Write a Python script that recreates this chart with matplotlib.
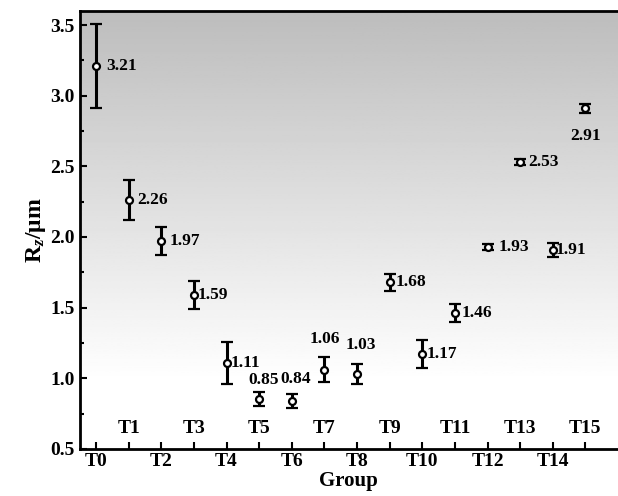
import numpy as np
import matplotlib.pyplot as plt

plt.rcParams['font.family'] = ['Liberation Serif', 'DejaVu Serif']
plt.rcParams['font.weight'] = 'bold'
plt.rcParams['mathtext.fontset'] = 'custom'
plt.rcParams['mathtext.rm'] = 'Liberation Serif:bold'
plt.rcParams['mathtext.it'] = 'Liberation Serif:italic:bold'

# data
groups = ['T%d' % i for i in range(16)]
rz = [3.21, 2.26, 1.97, 1.59, 1.11, 0.85, 0.84, 1.06, 1.03, 1.68, 1.17, 1.46, 1.93, 2.53, 1.91, 2.91]
err = [0.30, 0.14, 0.10, 0.10, 0.15, 0.05, 0.05, 0.09, 0.07, 0.06, 0.10, 0.065, 0.02, 0.02, 0.05, 0.03]

# where each value label sits relative to its point (points)
lab_off = [(7, 0), (6, 0), (6, 0), (3, 0), (3, 0), (3, 14), (3, 16), (0, 22), (3, 21),
           (4, 0), (3, 0), (5, 0), (8, 0), (6, 0), (2, 0), (0, -20)]

fig = plt.figure(figsize=(6.18, 4.96), dpi=100)
ax = fig.add_axes([0.129, 0.095, 0.871, 0.883])

x = np.arange(len(groups))

# grey to white background
grad = np.concatenate([np.linspace(0.74, 1.0, 220), np.ones(40)])
ax.imshow(grad.reshape(-1, 1), cmap='gray', vmin=0, vmax=1, aspect='auto',
          extent=(-0.5, 16, 0.5, 3.6), zorder=0)

ax.errorbar(x, rz, yerr=err, fmt='o', color='black', ecolor='black', elinewidth=2.2,
            capsize=4.5, capthick=2.2, markersize=5, markerfacecolor='white',
            markeredgecolor='black', markeredgewidth=1.6, zorder=3)

for i in range(len(groups)):
    dx, dy = lab_off[i]
    if dy != 0:
        ha = 'center'
    else:
        ha = 'left'
    ax.annotate('%.2f' % rz[i], (x[i], rz[i]), xytext=(dx, dy), textcoords='offset points',
                ha=ha, va='center', fontsize=12.5, fontweight='bold')

ax.set_xlim(-0.5, 16)
ax.set_ylim(0.5, 3.6)
ax.set_xticks(x)
ax.set_xticklabels([g if i % 2 == 0 else '' for i, g in enumerate(groups)])
for i in range(1, len(groups), 2):
    ax.text(x[i], 0.585, groups[i], ha='center', va='bottom', fontsize=14, fontweight='bold')

ax.set_yticks([0.5, 1.0, 1.5, 2.0, 2.5, 3.0, 3.5])
ax.set_yticks(np.arange(0.75, 3.6, 0.5), minor=True)
ax.tick_params(axis='both', which='both', direction='in', labelsize=14, width=1.5)
ax.tick_params(axis='both', which='major', length=5)
ax.tick_params(axis='y', which='minor', length=3)
ax.tick_params(axis='x', pad=3)
for lab in ax.get_xticklabels() + ax.get_yticklabels():
    lab.set_fontweight('bold')

ax.spines['right'].set_visible(False)
for s in ['left', 'bottom', 'top']:
    ax.spines[s].set_linewidth(2)

ax.set_xlabel('Group', fontsize=15, fontweight='bold', labelpad=1)
ax.set_ylabel(r'$\mathrm{R}_{\mathit{z}}$/μm', fontsize=17, fontweight='bold', labelpad=2)

fig.savefig('out.png')
